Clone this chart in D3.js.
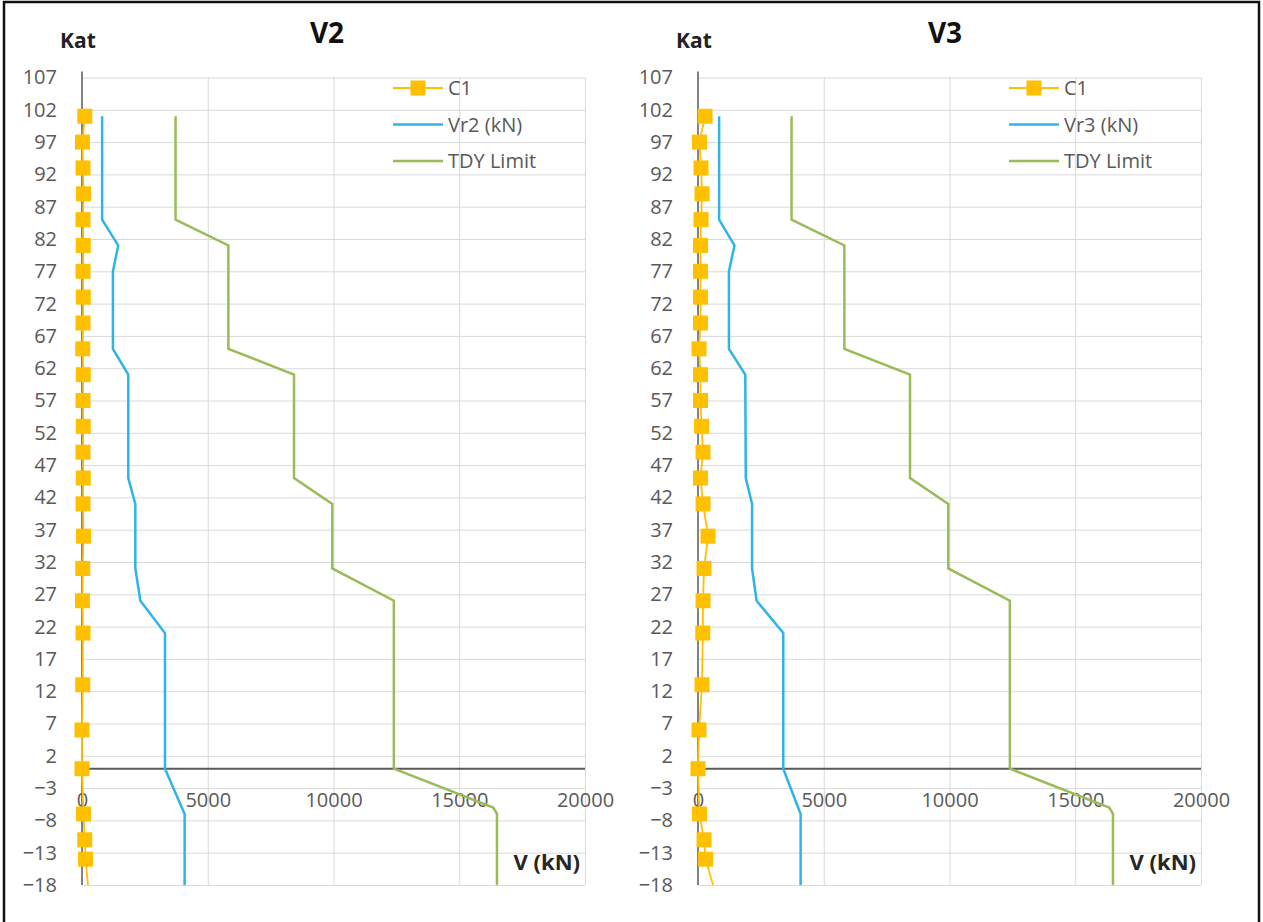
<!DOCTYPE html>
<html>
<head>
<meta charset="utf-8">
<script src="https://cdn.jsdelivr.net/npm/d3@7"></script>
<style>
  body { margin: 0; background: #fff; }
  text { font-family: "Open Sans", "Noto Sans", sans-serif; }
</style>
</head>
<body>
<div id="chart"></div>
<script>
// Eje vertical (Kat) y horizontal (V)
const katTicks = [107, 102, 97, 92, 87, 82, 77, 72, 67, 62, 57, 52, 47, 42, 37, 32, 27, 22, 17, 12, 7, 2, -3, -8, -13, -18];
const vTicks = [0, 5000, 10000, 15000, 20000];

// C1 (columna)
const c1Kat = [101, 97, 93, 89, 85, 81, 77, 73, 69, 65, 61, 57, 53, 49, 45, 41, 36, 31, 26, 21, 13, 6, 0, -7, -11, -14, -20];
const c1V2 = [110, 20, 40, 60, 40, 50, 40, 50, 40, 30, 50, 40, 50, 40, 50, 40, 60, 30, 20, 40, 30, 0, 0, 60, 110, 140, 290];
const c1V3 = [280, 60, 120, 160, 120, 100, 100, 100, 100, 40, 100, 100, 140, 200, 100, 200, 400, 240, 200, 190, 160, 40, 0, 60, 240, 300, 750];

// Vr2 / Vr3 (kN)
const vrKat = [101, 85, 81, 77, 65, 61, 45, 41, 31, 26, 21, 0, -7, -18];
const vr2 = [800, 800, 1440, 1230, 1230, 1840, 1840, 2120, 2120, 2320, 3300, 3300, 4080, 4080];
const vr3 = [840, 840, 1450, 1230, 1230, 1880, 1900, 2150, 2150, 2330, 3390, 3390, 4080, 4080];

// Limite TDY
const tdyKat = [101, 85, 81, 65, 61, 45, 41, 31, 26, 0, -6, -7, -18];
const tdyLimit = [3720, 3720, 5820, 5820, 8430, 8430, 9950, 9950, 12400, 12400, 16350, 16500, 16500];

const svg = d3.select("#chart")
  .append("svg")
    .attr("width", 1263)
    .attr("height", 922);

// Marco
svg.append("rect")
  .attr("x", 4).attr("y", 2)
  .attr("width", 1255).attr("height", 940)
  .attr("fill", "none")
  .attr("stroke", "#111")
  .attr("stroke-width", 2.5);

const y = d3.scaleLinear().domain([-18, 107]).range([885, 77.5]);

const panels = [
  { id: "p1", x0: 82, x1: 585, title: "V2", titleX: 327, vrName: "Vr2 (kN)", vr: vr2, c1: c1V2 },
  { id: "p2", x0: 698, x1: 1201, title: "V3", titleX: 945, vrName: "Vr3 (kN)", vr: vr3, c1: c1V3 }
];

panels.forEach(p => {
  const x = d3.scaleLinear().domain([0, 20000]).range([p.x0, p.x1]);
  const g = svg.append("g");
  const off = p.x0 - 82;

  // Lineas de cuadricula
  g.append("g")
    .attr("transform", `translate(${p.x0},0)`)
    .call(d3.axisLeft(y).tickValues(katTicks).tickSize(-(p.x1 - p.x0)).tickFormat(""))
    .call(a => a.select(".domain").remove())
    .selectAll("line").attr("stroke", "#d9d9d9").attr("stroke-width", 1);

  g.append("g")
    .attr("transform", `translate(0,${y(-18)})`)
    .call(d3.axisBottom(x).tickValues(vTicks.slice(1)).tickSize(-(y(-18) - y(107))).tickFormat(""))
    .call(a => a.select(".domain").remove())
    .selectAll("line").attr("stroke", "#d9d9d9").attr("stroke-width", 1);

  // Etiquetas del eje Kat
  g.append("g")
    .attr("transform", `translate(${p.x0},0)`)
    .call(d3.axisLeft(y).tickValues(katTicks).tickSize(0).tickPadding(25))
    .call(a => a.select(".domain").remove())
    .selectAll("text")
      .attr("fill", "#595959")
      .style("font-size", "20px");

  // Etiquetas del eje V
  g.append("g")
    .attr("transform", "translate(0,793)")
    .call(d3.axisBottom(x).tickValues(vTicks).tickSize(0).tickPadding(0).tickFormat(d3.format("d")))
    .call(a => a.select(".domain").remove())
    .selectAll("text")
      .attr("fill", "#595959")
      .style("font-size", "20px");

  // Ejes
  g.append("line")
    .attr("x1", x(0)).attr("x2", x(0))
    .attr("y1", y(107) - 6).attr("y2", y(-18))
    .attr("stroke", "#595959").attr("stroke-width", 1.5);
  g.append("line")
    .attr("x1", x(0)).attr("x2", x(20000))
    .attr("y1", y(0)).attr("y2", y(0))
    .attr("stroke", "#595959").attr("stroke-width", 2);

  // Clip del area de trazado
  svg.append("clipPath").attr("id", "clip-" + p.id)
    .append("rect")
      .attr("x", p.x0 - 20).attr("y", y(107) - 20)
      .attr("width", p.x1 - p.x0 + 40).attr("height", y(-18) - y(107) + 20);

  const plot = g.append("g").attr("clip-path", `url(#clip-${p.id})`);

  const line = d3.line().x(d => x(d[1])).y(d => y(d[0]));

  plot.append("path")
    .datum(d3.zip(tdyKat, tdyLimit))
    .attr("d", line)
    .attr("fill", "none").attr("stroke", "#9bbb59").attr("stroke-width", 2.5);

  plot.append("path")
    .datum(d3.zip(vrKat, p.vr))
    .attr("d", line)
    .attr("fill", "none").attr("stroke", "#2eb4e8").attr("stroke-width", 2.5);

  // el ultimo punto de C1 queda fuera del eje, solo se ve la linea
  const c1 = d3.zip(c1Kat, p.c1);
  svg.append("clipPath").attr("id", "clipb-" + p.id)
    .append("rect")
      .attr("x", p.x0 - 20).attr("y", 0)
      .attr("width", p.x1 - p.x0 + 40).attr("height", y(-18));
  const c1g = g.append("g").attr("clip-path", `url(#clipb-${p.id})`);

  c1g.append("path")
    .datum(c1)
    .attr("d", line)
    .attr("fill", "none").attr("stroke", "#ffc000").attr("stroke-width", 1.8);

  c1g.selectAll("rect.mk")
    .data(c1)
    .join("rect")
      .attr("class", "mk")
      .attr("x", d => x(d[1]) - 7.5)
      .attr("y", d => y(d[0]) - 7.5)
      .attr("width", 15).attr("height", 15)
      .attr("fill", "#ffc000");

  // Titulos
  g.append("text")
    .attr("x", p.titleX).attr("y", 43)
    .attr("text-anchor", "middle")
    .style("font-size", "28px").style("font-weight", "bold")
    .attr("fill", "#111")
    .text(p.title);

  g.append("text")
    .attr("x", 60 + off).attr("y", 48)
    .style("font-size", "21px").style("font-weight", "bold")
    .attr("fill", "#222")
    .text("Kat");

  g.append("text")
    .attr("x", 580 + off).attr("y", 870)
    .attr("text-anchor", "end")
    .style("font-size", "22px").style("font-weight", "bold")
    .attr("fill", "#262626")
    .text("V (kN)");

  // Leyenda
  const legend = [
    { name: "C1", color: "#ffc000", marker: true, w: 1.8 },
    { name: p.vrName, color: "#2eb4e8", marker: false, w: 2.5 },
    { name: "TDY Limit", color: "#9bbb59", marker: false, w: 2.5 }
  ];
  const lg = g.selectAll("g.leg")
    .data(legend)
    .join("g")
      .attr("class", "leg")
      .attr("transform", (d, i) => `translate(${393 + off},${88 + i * 36.5})`);
  lg.append("line")
    .attr("x1", 0).attr("x2", 50)
    .attr("stroke", d => d.color).attr("stroke-width", d => d.w);
  lg.filter(d => d.marker).append("rect")
    .attr("x", 17.5).attr("y", -7.5).attr("width", 15).attr("height", 15)
    .attr("fill", d => d.color);
  lg.append("text")
    .attr("x", 55).attr("dy", "0.35em")
    .style("font-size", "20px")
    .attr("fill", "#595959")
    .text(d => d.name);
});
</script>
</body>
</html>
